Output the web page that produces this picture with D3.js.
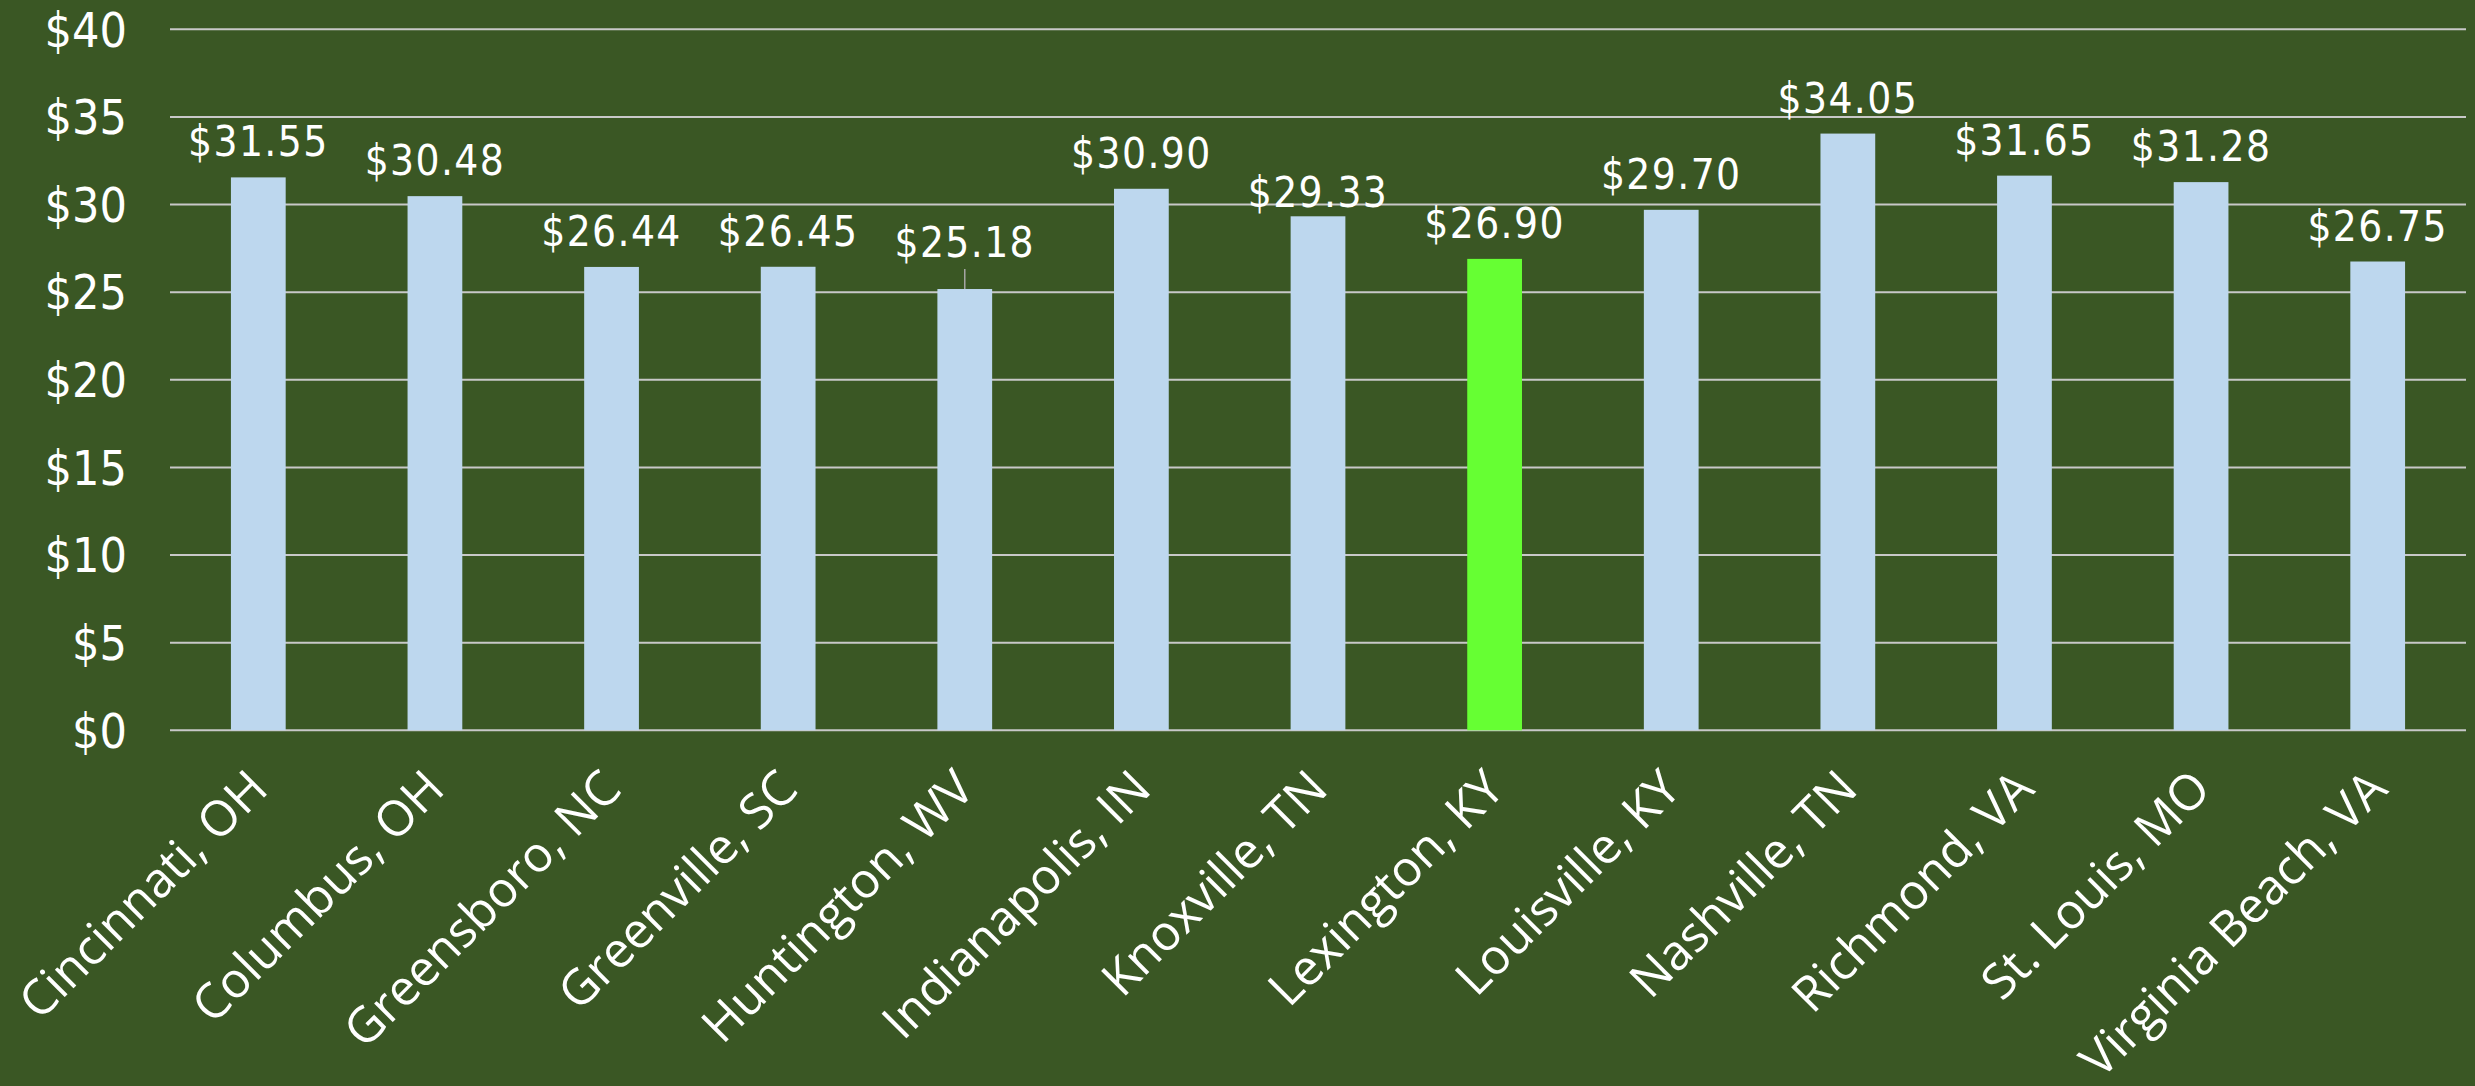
<!DOCTYPE html>
<html>
<head>
<meta charset="utf-8">
<script src="https://cdn.jsdelivr.net/npm/d3@7"></script>
<style>
  html, body { margin: 0; padding: 0; background: #3A5724; }
  svg { display: block; }
</style>
</head>
<body>
<svg id="chart" width="2475" height="1086"></svg>
<script>
// ---- data ----
const categories = ["Cincinnati, OH", "Columbus, OH", "Greensboro, NC", "Greenville, SC", "Huntington, WV",
  "Indianapolis, IN", "Knoxville, TN", "Lexington, KY", "Louisville, KY", "Nashville, TN",
  "Richmond, VA", "St. Louis, MO", "Virginia Beach, VA"];
const values = [31.55, 30.48, 26.44, 26.45, 25.18, 30.90, 29.33, 26.90, 29.70, 34.05, 31.65, 31.28, 26.75];
const highlighted = ["Lexington, KY"];
const yTicks = [0, 5, 10, 15, 20, 25, 30, 35, 40];

// ---- layout ----
const W = 2475, H = 1086;
const plot = { left: 170, right: 2466, top: 29.3, bottom: 730.3 };
const colors = { bg: "#3A5724", bar: "#BDD7EE", hi: "#66FF33", grid: "#C8C8C8", text: "#FFFFFF", leader: "#A6A6A6" };
const numFont = "'DejaVu Sans Condensed', 'Liberation Sans Narrow', 'Liberation Sans', sans-serif";
const catFont = "'Open Sans', 'Noto Sans', sans-serif";
// manual label nudges (px, negative = up) as in the reference
const labelNudge = { "Huntington, WV": -11, "Knoxville, TN": 12 };

const svg = d3.select("#chart");
svg.append("rect").attr("width", W).attr("height", H).attr("fill", colors.bg);

const x = d3.scaleBand().domain(categories).range([plot.left, plot.right]).paddingInner(0.69).paddingOuter(0.345);
const y = d3.scaleLinear().domain([0, 40]).range([plot.bottom, plot.top]);

// gridlines
svg.append("g").selectAll("line").data(yTicks).join("line")
  .attr("x1", plot.left).attr("x2", plot.right)
  .attr("y1", d => y(d)).attr("y2", d => y(d))
  .attr("stroke", colors.grid).attr("stroke-width", 2);

// y tick labels
svg.append("g").selectAll("text").data(yTicks).join("text")
  .attr("x", plot.left - 43).attr("y", d => y(d)).attr("dy", "0.36em")
  .attr("text-anchor", "end")
  .attr("fill", colors.text)
  .style("font-family", numFont).style("font-size", "48px")
  .text(d => "$" + d);

// bars
svg.append("g").selectAll("rect").data(categories).join("rect")
  .attr("x", d => x(d)).attr("width", x.bandwidth())
  .attr("y", (d, i) => y(values[i])).attr("height", (d, i) => y(0) - y(values[i]))
  .attr("fill", d => highlighted.includes(d) ? colors.hi : colors.bar);

// leader line for nudged-up label
svg.append("g").selectAll("line").data(categories.filter(c => (labelNudge[c] || 0) < 0)).join("line")
  .attr("x1", d => x(d) + x.bandwidth() / 2).attr("x2", d => x(d) + x.bandwidth() / 2)
  .attr("y1", d => y(values[categories.indexOf(d)]) - 20)
  .attr("y2", d => y(values[categories.indexOf(d)]))
  .attr("stroke", colors.leader).attr("stroke-width", 1.5);

// value labels
svg.append("g").selectAll("text").data(categories).join("text")
  .attr("x", d => x(d) + x.bandwidth() / 2)
  .attr("y", (d, i) => y(values[i]) - 21 + (labelNudge[d] || 0))
  .attr("text-anchor", "middle")
  .attr("fill", colors.text)
  .style("font-family", numFont).style("font-size", "42px").style("letter-spacing", "1.4px")
  .text((d, i) => "$" + values[i].toFixed(2));

// category labels
svg.append("g").selectAll("text").data(categories).join("text")
  .attr("transform", d => `translate(${x(d) + x.bandwidth() / 2 + 12},${plot.bottom + 61}) rotate(-45)`)
  .attr("text-anchor", "end")
  .attr("fill", colors.text)
  .style("font-family", catFont).style("font-size", "49px")
  .text(d => d);
</script>
</body>
</html>
